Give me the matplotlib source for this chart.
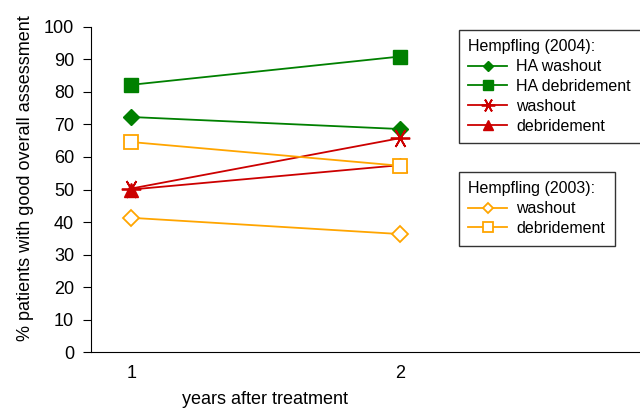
import matplotlib
matplotlib.use("Agg")
import matplotlib.pyplot as plt

plt.rcParams['font.family'] = ['Liberation Sans', 'DejaVu Sans']

years = [1, 2]
ha_washout_04 = [72.3, 68.6]
ha_debridement_04 = [82.2, 90.9]
washout_04 = [50.3, 65.8]
debridement_04 = [50.0, 57.5]
washout_03 = [41.3, 36.3]
debridement_03 = [64.6, 57.3]

green = '#008000'
red = '#cc0000'
orange = '#ffa500'

fig = plt.figure(figsize=(6.4, 4.08), dpi=100)
ax = fig.add_axes([0.142, 0.137, 0.87, 0.797])

l1, = ax.plot(years, ha_washout_04, color=green, marker='D', ms=8, lw=1.3, label='HA washout')
l2, = ax.plot(years, ha_debridement_04, color=green, marker='s', ms=9.5, lw=1.3, label='HA debridement')
l3, = ax.plot(years, washout_04, color=red, marker=(6, 2, 90), ms=14, mew=1.3, lw=1.3, label='washout')
l4, = ax.plot(years, debridement_04, color=red, marker='^', ms=10, lw=1.3, label='debridement')
l5, = ax.plot(years, washout_03, color=orange, marker='D', ms=8, mfc='white', mew=1.3, lw=1.3, label='washout')
l6, = ax.plot(years, debridement_03, color=orange, marker='s', ms=10, mfc='white', mew=1.3, lw=1.3, label='debridement')

ax.set_xlim(0.85, 2.92)
ax.set_ylim(0, 100)
ax.set_yticks(range(0, 101, 10))
ax.set_xticks(years)
ax.tick_params(axis='x', length=0, pad=9, labelsize=13)
ax.tick_params(axis='y', length=6, pad=6, labelsize=13)
ax.spines['top'].set_visible(False)
ax.spines['right'].set_visible(False)
ax.set_xlabel('years after treatment', fontsize=13, va='top')
ax.xaxis.set_label_coords(0.312, -0.12)
ax.set_ylabel('% patients with good overall assessment', fontsize=13)
ax.yaxis.set_label_coords(-0.103, 0.535)

leg_style = dict(loc='upper left', fontsize=11.5, title_fontsize=11.5, frameon=True,
                 fancybox=False, edgecolor='#333333', framealpha=1, handlelength=2.4,
                 handletextpad=0.6, borderaxespad=0, borderpad=0.6, labelspacing=0.3,
                 markerscale=0.7)
leg1 = fig.legend(handles=[l1, l2, l3, l4], title='Hempfling (2004):',
                  bbox_to_anchor=(0.717, 0.927), **leg_style)
leg1._legend_box.align = 'left'
leg2 = fig.legend(handles=[l5, l6], title='Hempfling (2003):',
                  bbox_to_anchor=(0.717, 0.579), **leg_style)
leg2._legend_box.align = 'left'

fig.savefig('out.png', dpi=100)
